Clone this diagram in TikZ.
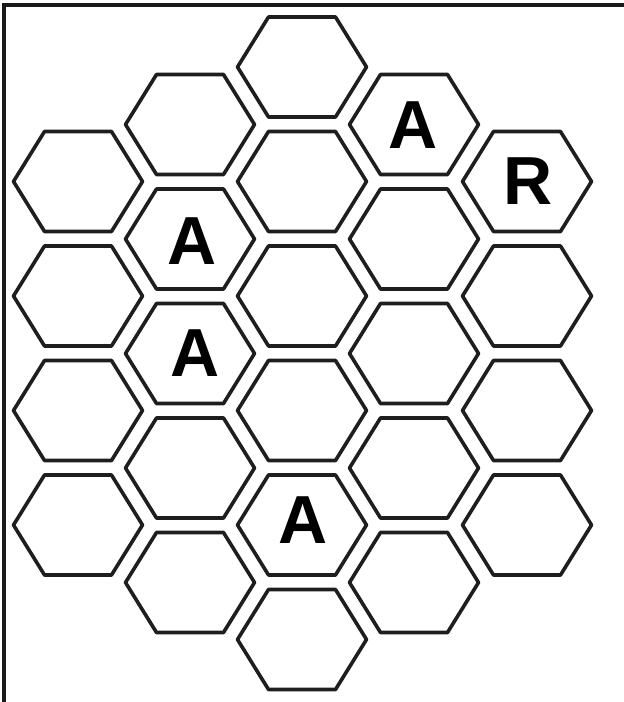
\documentclass[tikz,border=0pt]{standalone}
\usepackage{fontspec}
\setsansfont{Liberation Sans}
\definecolor{penGray}{RGB}{30,30,30}

\begin{document}
\begin{tikzpicture}[
    x=0.5pt, y=-0.5pt,
    hexline/.style={draw=penGray, line width=1.8pt, line join=round},
    cell/.pic={\draw[hexline] (-64.5,0) -- (-33.5,-50) -- (33.5,-50) -- (64.5,0)
        -- (33.5,50) -- (-33.5,50) -- cycle;},
    letter/.style={font=\sffamily\bfseries\fontsize{34}{34}\selectfont, text=black, inner sep=0pt},
    frame/.style={line width=1.6pt, black!90},
    ]
    \useasboundingbox (0,0) rectangle (624,702);
    % Frame (top and left only)
    \coordinate (fb) at (4,702);
    \coordinate (fc) at (4,5);
    \coordinate (fr) at (624,5);
    \draw[frame] (fb) -- (fc) -- (fr);
    % Column 1
    \pic (h11) at (78,181.5) {cell};
    \pic (h12) at (78,296)   {cell};
    \pic (h13) at (78,410.5) {cell};
    \pic (h14) at (78,525)   {cell};
    % Column 2
    \pic (h21) at (190,124.5) {cell};
    \pic (h22) at (190,239)   {cell};
    \pic (h23) at (190,353.5) {cell};
    \pic (h24) at (190,468)   {cell};
    \pic (h25) at (190,582.5) {cell};
    % Column 3
    \pic (h31) at (302,67)    {cell};
    \pic (h32) at (302,181.5) {cell};
    \pic (h33) at (302,296)   {cell};
    \pic (h34) at (302,410.5) {cell};
    \pic (h35) at (302,525)   {cell};
    \pic (h36) at (302,639.5) {cell};
    % Column 4
    \pic (h41) at (414,124.5) {cell};
    \pic (h42) at (414,239)   {cell};
    \pic (h43) at (414,353.5) {cell};
    \pic (h44) at (414,468)   {cell};
    \pic (h45) at (414,582.5) {cell};
    % Column 5
    \pic (h51) at (527,181.5) {cell};
    \pic (h52) at (527,296)   {cell};
    \pic (h53) at (527,410.5) {cell};
    \pic (h54) at (527,525)   {cell};
    % Letters
    \node[letter] (a22) at (192,241) {A};
    \node[letter] (a23) at (195,353) {A};
    \node[letter] (a41) at (413,125) {A};
    \node[letter] (r51) at (528,181) {R};
    \node[letter] (a35) at (303,520) {A};
\end{tikzpicture}
\end{document}
